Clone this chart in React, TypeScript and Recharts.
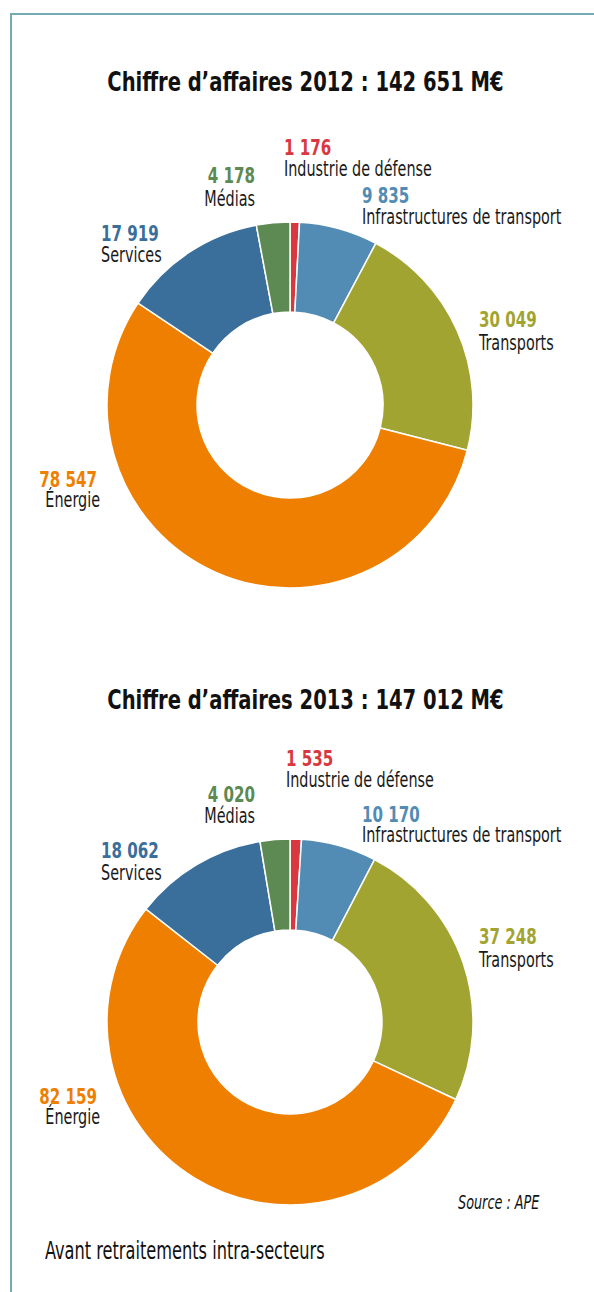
import React from "react";
import { Cell, Pie, PieChart } from "recharts";

document.body.style.margin = "0";

// données (M€)
const sectors = [
  "Industrie de défense",
  "Infrastructures de transport",
  "Transports",
  "Énergie",
  "Services",
  "Médias",
];
const values2012 = [1176, 9835, 30049, 78547, 17919, 4178];
const values2013 = [1535, 10170, 37248, 82159, 18062, 4020];
const total2012 = 142651;
const total2013 = 147012;

const colors = ["#d8383f", "#528cb4", "#a2a431", "#ef7f00", "#3a6e9b", "#5d8952"];

const FONT = "'DejaVu Sans Condensed', 'DejaVu Sans', sans-serif";
const SQUEEZE = 0.78; // pas de police condensée étroite dispo -> on compresse

// placement des étiquettes par rapport au centre du donut
type LabelPos = { dx: number; dx2: number; dy: number; dy2: number; anchor: "start" | "end" };
const labels2012: LabelPos[] = [
  { dx: -6, dx2: -6, dy: -250, dy2: -229, anchor: "start" },
  { dx: 72, dx2: 72, dy: -202, dy2: -181, anchor: "start" },
  { dx: 189, dx2: 189, dy: -78, dy2: -55, anchor: "start" },
  { dx: -193, dx2: -190, dy: 82, dy2: 102, anchor: "end" },
  { dx: -189, dx2: -189, dy: -164, dy2: -143, anchor: "start" },
  { dx: -35, dx2: -35, dy: -222, dy2: -199, anchor: "end" },
];
const labels2013: LabelPos[] = [
  { dx: -4, dx2: -4, dy: -256, dy2: -235, anchor: "start" },
  { dx: 72, dx2: 72, dy: -200, dy2: -180, anchor: "start" },
  { dx: 189, dx2: 189, dy: -78, dy2: -55, anchor: "start" },
  { dx: -193, dx2: -190, dy: 82, dy2: 102, anchor: "end" },
  { dx: -189, dx2: -189, dy: -164, dy2: -142, anchor: "start" },
  { dx: -35, dx2: -35, dy: -220, dy2: -199, anchor: "end" },
];

const fmt = (n: number) => n.toString().replace(/\B(?=(\d{3})+(?!\d))/g, " ");

const makeLabel = (pos: LabelPos[]) => (props: any) => {
  const { cx, cy, index, payload } = props;
  const p = pos[index];
  return (
    <g key={`lbl-${index}`}>
      <text
        transform={`translate(${cx + p.dx} ${cy + p.dy}) scale(${SQUEEZE} 1)`}
        textAnchor={p.anchor}
        fill={colors[index]}
        fontFamily={FONT}
        fontWeight="bold"
        fontSize={21.5}
      >
        {fmt(payload.value)}
      </text>
      <text
        transform={`translate(${cx + p.dx2} ${cy + p.dy2}) scale(${SQUEEZE} 1)`}
        textAnchor={p.anchor}
        fill="#1a1a1a"
        fontFamily={FONT}
        fontSize={20.5}
      >
        {payload.name}
      </text>
    </g>
  );
};

const data2012 = sectors.map((name, i) => ({ name, value: values2012[i] }));
const data2013 = sectors.map((name, i) => ({ name, value: values2013[i] }));

const titleStyle: React.CSSProperties = {
  position: "absolute",
  left: 0,
  width: 611,
  textAlign: "center",
  fontFamily: FONT,
  fontWeight: "bold",
  fontSize: 27,
  color: "#111",
  whiteSpace: "nowrap",
  transform: "scaleX(0.805)",
  transformOrigin: "center",
};

export default function App() {
  return (
    <div style={{ position: "relative", width: 594, height: 1292, background: "#fff", overflow: "hidden" }}>
      {/* cadre */}
      <div style={{ position: "absolute", left: 10, top: 13, width: 600, height: 1300, borderLeft: "2px solid #74aab2", borderTop: "2px solid #74aab2" }} />
      <div style={{ ...titleStyle, top: 66 }}>Chiffre d’affaires 2012 : {fmt(total2012)} M€</div>
      <div style={{ ...titleStyle, top: 684 }}>Chiffre d’affaires 2013 : {fmt(total2013)} M€</div>
      <div style={{ position: "absolute", left: 0, top: 0 }}>
        <PieChart width={594} height={1292} margin={{ top: 0, right: 0, bottom: 0, left: 0 }}>
          <Pie
            data={data2012}
            dataKey="value"
            nameKey="name"
            cx={290}
            cy={405}
            innerRadius={93}
            outerRadius={183}
            startAngle={90}
            endAngle={-270}
            stroke="#fff"
            strokeWidth={1.5}
            label={makeLabel(labels2012)}
            labelLine={false}
            isAnimationActive={false}
          >
            {data2012.map((d, i) => (
              <Cell key={d.name} fill={colors[i]} />
            ))}
          </Pie>
          <Pie
            data={data2013}
            dataKey="value"
            nameKey="name"
            cx={290}
            cy={1022}
            innerRadius={92}
            outerRadius={183}
            startAngle={90}
            endAngle={-270}
            stroke="#fff"
            strokeWidth={1.5}
            label={makeLabel(labels2013)}
            labelLine={false}
            isAnimationActive={false}
          >
            {data2013.map((d, i) => (
              <Cell key={d.name} fill={colors[i]} />
            ))}
          </Pie>
        </PieChart>
      </div>
      <div
        style={{
          position: "absolute",
          left: 458,
          top: 1191,
          fontFamily: FONT,
          fontStyle: "italic",
          fontSize: 19,
          color: "#111",
          whiteSpace: "nowrap",
          transform: "scaleX(0.75)",
          transformOrigin: "left",
        }}
      >
        Source : APE
      </div>
      <div
        style={{
          position: "absolute",
          left: 45,
          top: 1237,
          fontFamily: FONT,
          fontSize: 24,
          color: "#111",
          whiteSpace: "nowrap",
          transform: "scaleX(0.75)",
          transformOrigin: "left",
        }}
      >
        Avant retraitements intra-secteurs
      </div>
    </div>
  );
}
